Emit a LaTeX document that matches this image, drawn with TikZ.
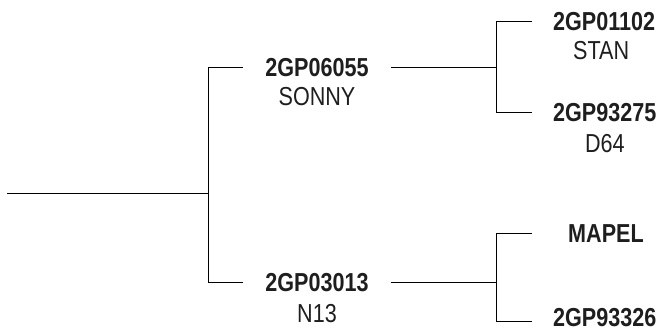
\documentclass[tikz,border=0pt]{standalone}
\usepackage{fontspec}
\setmainfont{Liberation Sans}[FakeStretch=0.83]
\definecolor{txt}{HTML}{1E1E1E}
\begin{document}
\begin{tikzpicture}[x=1pt,y=-1pt,
  tree/.style={line width=0.9pt, draw=black},
  idl/.style={font=\fontsize{26}{30}\selectfont\bfseries, text height=18.6pt, text depth=0pt, inner sep=0pt, text=txt},
  leftid/.style={idl, minimum width=147pt},
  rightid/.style={idl, anchor=west},
  sublbl/.style={font=\fontsize{26}{30}\selectfont, inner sep=0pt, anchor=base, text=txt}]
\useasboundingbox (0,0) rectangle (659,333);
% junctions
\coordinate (r) at (7,193);
\coordinate (j1) at (208,193);
\coordinate (j2) at (496,67);
\coordinate (j3) at (496,282.5);
% first generation
\node[leftid] (a) at (317,67) {2GP06055};
\node[sublbl] (as) at ([yshift=-29.5pt]a.base) {SONNY};
\node[leftid] (b) at (317,282.5) {2GP03013};
\node[sublbl] (bs) at ([yshift=-30.5pt]b.base) {N13};
% second generation
\node[rightid] (c) at (553,21) {2GP01102};
\node[sublbl] (cs) at ([xshift=-3pt,yshift=-29pt]c.base) {STAN};
\node[rightid] (d) at (553,112.5) {2GP93275};
\node[sublbl] (ds) at ([yshift=-30.5pt]d.base) {D64};
\node[rightid] (e) at (568,233.5) {MAPEL};
\node[rightid] (f) at (553,317.5) {2GP93326};
% connectors
\draw[tree] (r) -- (j1);
\draw[tree] (j1) |- (a.west);
\draw[tree] (j1) |- (b.west);
\draw[tree] (a.east) -- (j2);
\draw[tree, shorten >=21pt] (j2) |- (c.west);
\draw[tree, shorten >=21pt] (j2) |- (d.west);
\draw[tree] (b.east) -- (j3);
\draw[tree, shorten >=36pt] (j3) |- (e.west);
\draw[tree, shorten >=21pt] (j3) |- ([yshift=-4pt]f.west);
\end{tikzpicture}
\end{document}
